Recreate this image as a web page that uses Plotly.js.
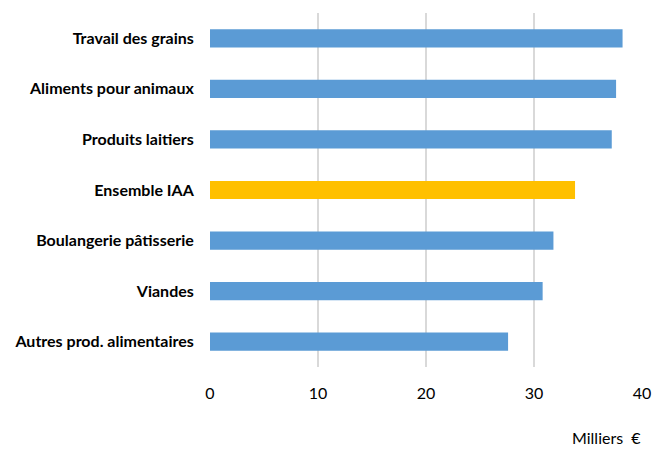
<!DOCTYPE html>
<html><head><meta charset="utf-8">
<script src="https://cdn.plot.ly/plotly-3.0.1.min.js"></script>
<style>html,body{margin:0;padding:0;background:#fff}#chart{width:652px;height:449px}</style>
</head><body><div id="chart"></div>
<script>
const categories = ["Travail des grains","Aliments pour animaux","Produits laitiers","Ensemble IAA","Boulangerie pâtisserie","Viandes","Autres prod. alimentaires"];
const values = [38.2, 37.6, 37.2, 33.8, 31.8, 30.8, 27.6];
const highlight = "Ensemble IAA";
const tickVals = [0, 10, 20, 30, 40];
const axisTitle = "Milliers  €";

const colors = categories.map(c => c === highlight ? "#FFC000" : "#5B9BD5");
const trace = {
  type: "bar", orientation: "h", x: values, y: categories,
  marker: {color: colors}, hoverinfo: "x+y"
};
const layout = {
  width: 652, height: 449,
  margin: {l: 210, r: 10, t: 13, b: 82},
  paper_bgcolor: "#fff", plot_bgcolor: "#fff",
  bargap: 0.64, showlegend: false,
  font: {family: "Lato, 'Open Sans', sans-serif", color: "#000"},
  xaxis: {
    range: [0, 40], tickvals: tickVals, showgrid: true, gridcolor: "#d9d9d9", gridwidth: 2,
    zeroline: false, showline: false, ticks: "outside", ticklen: 12, tickcolor: "rgba(0,0,0,0)",
    tickfont: {size: 16, color: "#000"}, fixedrange: true
  },
  yaxis: {
    autorange: "reversed", showgrid: false, zeroline: false, showline: false,
    ticks: "outside", ticklen: 12, tickcolor: "rgba(0,0,0,0)",
    tickfont: {size: 16, color: "#000", weight: "bold"}, fixedrange: true
  },
  annotations: [{
    text: axisTitle, xref: "paper", yref: "paper", x: 1, y: 0, xanchor: "right", yanchor: "middle",
    xshift: 1, yshift: -70, showarrow: false, font: {size: 16, color: "#000"}
  }]
};
Plotly.newPlot("chart", [trace], layout, {displayModeBar: false, staticPlot: true});
</script></body></html>
